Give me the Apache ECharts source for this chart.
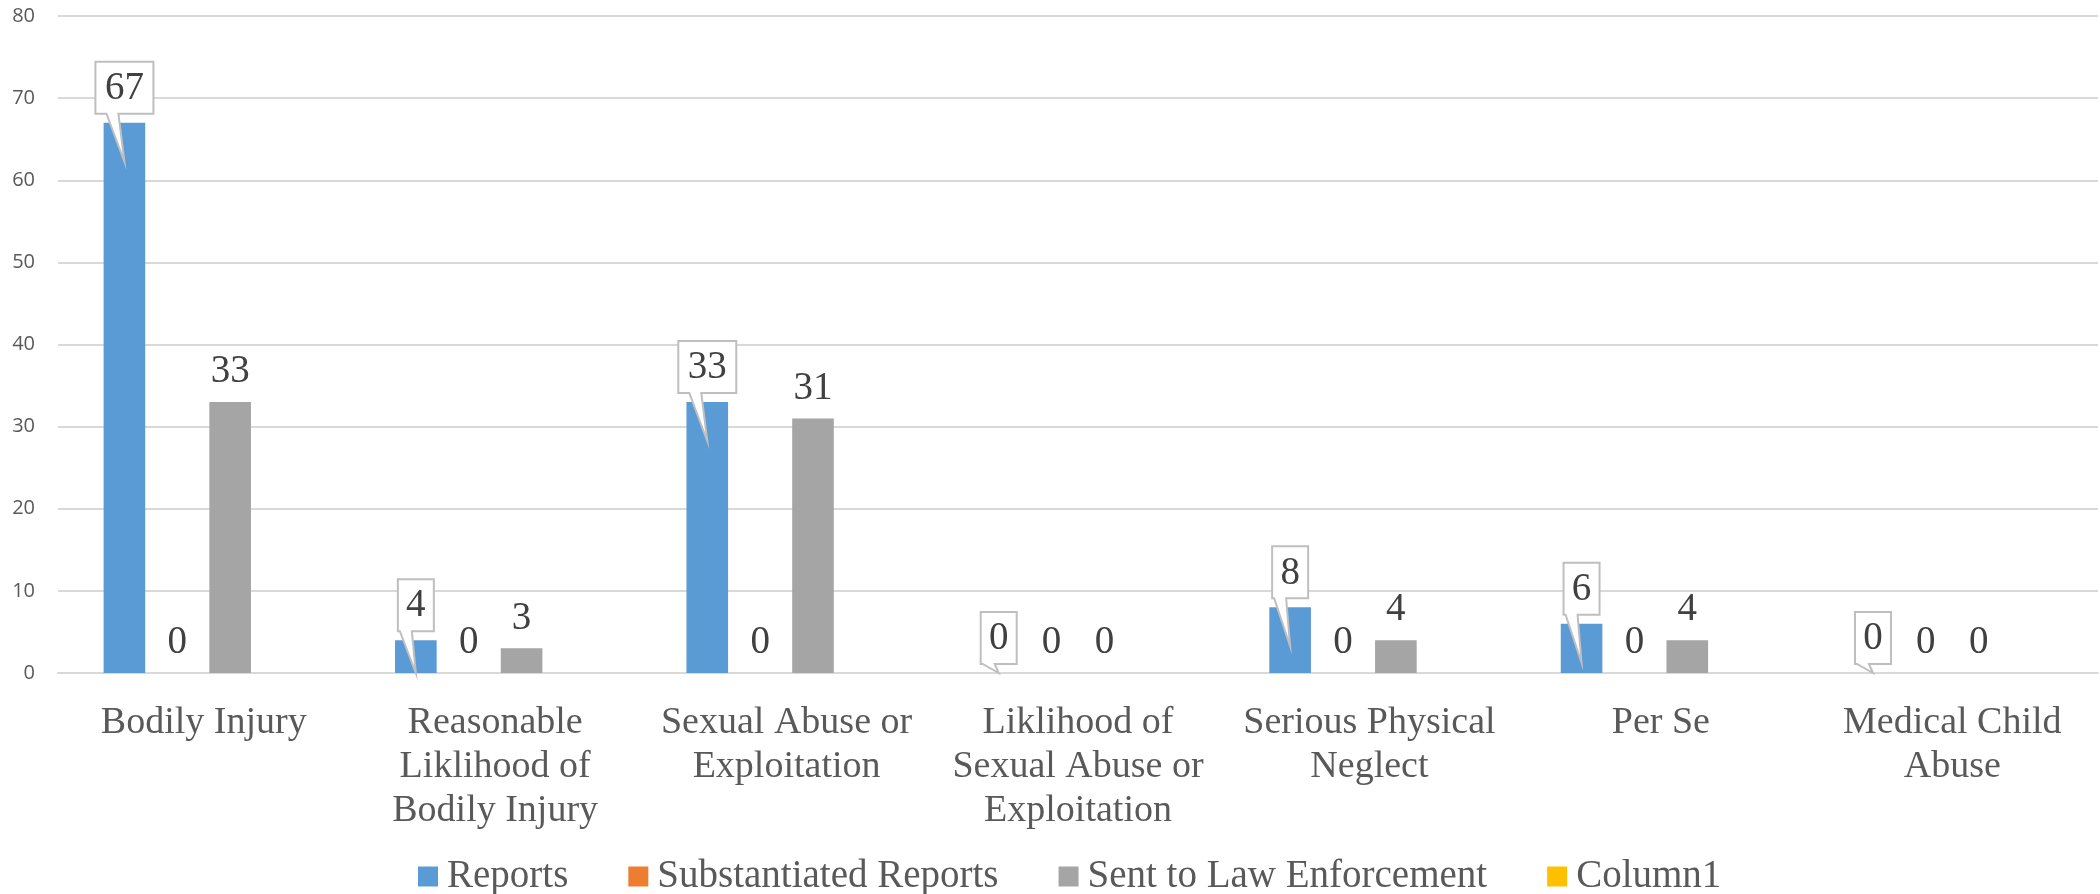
<!DOCTYPE html>
<html>
<head>
<meta charset="utf-8">
<script src="https://cdn.jsdelivr.net/npm/echarts@6/dist/echarts.min.js"></script>
<style>
html,body{margin:0;padding:0;background:#fff;}
#chart{width:2100px;height:894px;}
</style>
</head>
<body>
<div id="chart"></div>
<script>
const categories = [
  "Bodily Injury",
  "Reasonable\nLiklihood of\nBodily Injury",
  "Sexual Abuse or\nExploitation",
  "Liklihood of\nSexual Abuse or\nExploitation",
  "Serious Physical\nNeglect",
  "Per Se",
  "Medical Child\nAbuse"
];
const reports = [67, 4, 33, 0, 8, 6, 0];
const substantiated = [0, 0, 0, 0, 0, 0, 0];
const sentToLaw = [33, 3, 31, 0, 4, 4, 0];
const column1 = [null, null, null, null, null, null, null];
const yTicks = [0, 10, 20, 30, 40, 50, 60, 70, 80];

const SERIF = '"Liberation Serif", "DejaVu Serif", serif';
const SANS = '"Open Sans", "Liberation Sans", sans-serif';
const CAT_GAP = 0.313;
const BAR_GAP = 0.27;
const NBARS = 4;

const chart = echarts.init(document.getElementById('chart'), null, {renderer: 'canvas'});

const plainLabel = {
  show: true,
  position: 'top',
  distance: 10,
  color: '#404040',
  fontFamily: SERIF,
  fontSize: 39,
  lineHeight: 40
};

function renderCallout(params, api) {
  const idx = api.value(0);
  const val = api.value(1);
  const band = api.size([1, 0])[0];
  const w = band * (1 - CAT_GAP) / (NBARS + (NBARS - 1) * BAR_GAP);
  const offset = -1.5 * (w + w * BAR_GAP);
  const top = api.coord([idx, val]);
  const base = api.coord([idx, 0]);
  const cx = top[0] + offset;
  const barTop = top[1];
  const axisY = base[1];
  const txt = String(val);
  const bw = 14 + 22 * txt.length;
  const bh = 52;
  const B = barTop - 9;
  const T = B - bh;
  const L = cx - bw / 2;
  const R = cx + bw / 2;
  const bL = Math.max(L + 2, cx - 18);
  const bR = bL + 12;
  const tipY = Math.min(barTop + 39, axisY);
  return {
    type: 'group',
    children: [
      {
        type: 'polygon',
        shape: {points: [[L, T], [R, T], [R, B], [bR, B], [cx, tipY], [bL, B], [L, B]]},
        style: {fill: '#ffffff', stroke: '#bfbfbf', lineWidth: 2}
      },
      {
        type: 'text',
        style: {
          text: txt, x: cx, y: T + bh / 2 + 1,
          align: 'center', verticalAlign: 'middle',
          fontFamily: SERIF, fontSize: 39, fill: '#404040'
        }
      }
    ]
  };
}

const option = {
  animation: false,
  backgroundColor: '#ffffff',
  grid: {left: 58, right: 2, top: 16, bottom: 221, containLabel: false},
  legend: {
    data: ['Reports', 'Substantiated Reports', 'Sent to Law Enforcement', 'Column1'],
    top: 852,
    left: 413,
    itemWidth: 20,
    itemHeight: 20,
    itemGap: 60,
    icon: 'rect',
    textStyle: {fontFamily: SERIF, fontSize: 39, color: '#595959', padding: [0, 0, 0, 4]}
  },
  xAxis: {
    type: 'category',
    data: categories,
    axisLine: {show: true, lineStyle: {color: '#d9d9d9', width: 2}},
    axisTick: {show: false},
    axisLabel: {
      interval: 0,
      margin: 28,
      color: '#595959',
      fontFamily: SERIF,
      fontSize: 38,
      lineHeight: 44
    }
  },
  yAxis: {
    type: 'value',
    min: yTicks[0],
    max: yTicks[yTicks.length - 1],
    interval: 10,
    axisLine: {show: false},
    axisTick: {show: false},
    splitLine: {lineStyle: {color: '#d9d9d9', width: 2}},
    axisLabel: {margin: 23, color: '#595959', fontFamily: SANS, fontSize: 20}
  },
  series: [
    {
      name: 'Reports', type: 'bar', data: reports,
      itemStyle: {color: '#5B9BD5'},
      barCategoryGap: (CAT_GAP * 100) + '%', barGap: (BAR_GAP * 100) + '%'
    },
    {
      name: 'Substantiated Reports', type: 'bar', data: substantiated,
      itemStyle: {color: '#ED7D31'}, label: plainLabel
    },
    {
      name: 'Sent to Law Enforcement', type: 'bar', data: sentToLaw,
      itemStyle: {color: '#A5A5A5'}, label: plainLabel
    },
    {
      name: 'Column1', type: 'bar', data: column1,
      itemStyle: {color: '#FFC000'}
    },
    {
      name: 'callouts', type: 'custom',
      data: reports.map((v, i) => [i, v]),
      renderItem: renderCallout,
      z: 10,
      silent: true
    }
  ]
};
chart.setOption(option);
</script>
</body>
</html>
